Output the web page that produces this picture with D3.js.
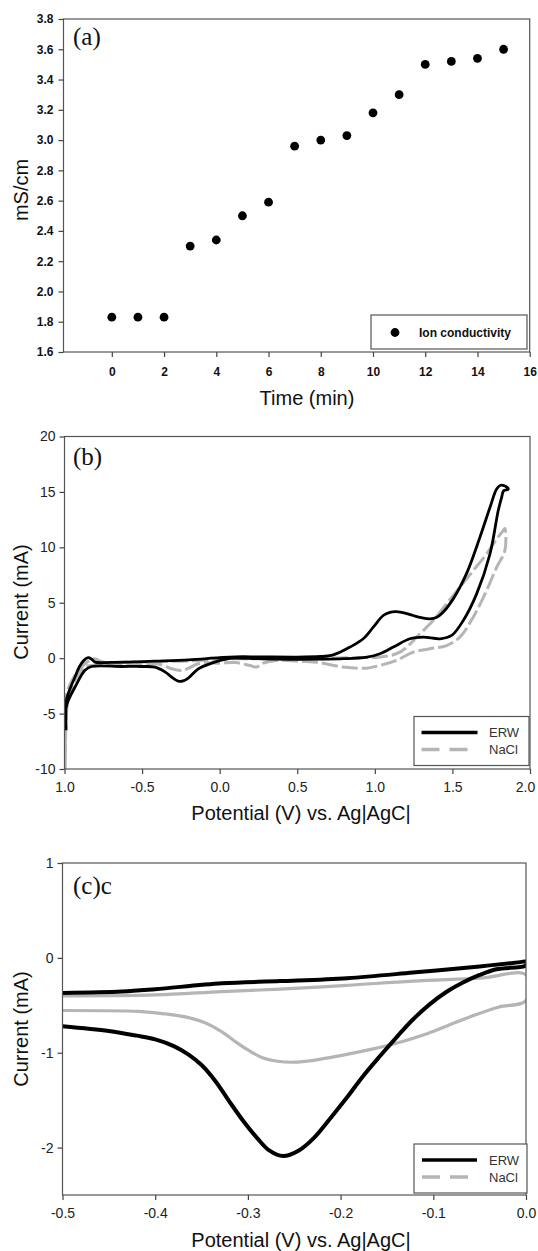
<!DOCTYPE html>
<html><head><meta charset="utf-8">
<script src="https://cdn.jsdelivr.net/npm/d3@7"></script>
<style>body{margin:0;background:#fff}svg{display:block}</style>
</head><body>
<script>
// ---------- Panel (a) data ----------
const timeMin = [0,1,2,3,4,5,6,7,8,9,10,11,12,13,14,15];
const conductivity = [1.83,1.83,1.83,2.30,2.34,2.50,2.59,2.96,3.00,3.03,3.18,3.30,3.50,3.52,3.54,3.60];
const aXTicks = [0,2,4,6,8,10,12,14,16];
const aYTicks = [1.6,1.8,2.0,2.2,2.4,2.6,2.8,3.0,3.2,3.4,3.6,3.8];

// ---------- Panel (b) data: [potential V, current mA] ----------
const erwB = [[-0.99,-6.5],[-0.99,-4.2],[-0.985,-3.6],[-0.96,-2.6],[-0.932,-1.7],[-0.905,-0.8],[-0.875,-0.2],[-0.847,0.04],[-0.825,-0.1],[-0.803,-0.36],[-0.7,-0.38],[-0.55,-0.34],[-0.417,-0.27],[-0.2,-0.15],[0.0,0.05],[0.1,0.12],[0.25,0.12],[0.5,0.1],[0.65,0.15],[0.72,0.25],[0.775,0.54],[0.84,1.0],[0.925,1.75],[0.99,2.8],[1.054,3.85],[1.097,4.14],[1.14,4.2],[1.2,4.05],[1.247,3.85],[1.3,3.65],[1.355,3.55],[1.4,3.7],[1.43,4.0],[1.505,5.35],[1.59,7.6],[1.677,10.9],[1.742,13.6],[1.785,15.26],[1.81,15.6],[1.835,15.55],[1.86,15.25],[1.83,15.1],[1.817,14.5],[1.795,13.3],[1.742,9.4],[1.656,5.8],[1.57,3.4],[1.495,2.05],[1.42,1.75],[1.312,1.9],[1.226,1.75],[1.119,1.0],[1.033,0.4],[0.95,0.1],[0.8,-0.05],[0.5,-0.1],[0.25,-0.05],[0.1,0.0],[0.055,-0.05],[-0.052,-0.45],[-0.138,-0.96],[-0.2,-1.77],[-0.235,-2.05],[-0.267,-2.07],[-0.31,-1.7],[-0.35,-1.26],[-0.417,-0.81],[-0.5,-0.75],[-0.63,-0.75],[-0.825,-0.75],[-0.868,-1.1],[-0.932,-2.6],[-0.975,-3.8],[-0.99,-4.5]];
const naclB = [[-0.995,-10],[-0.993,-5],[-0.985,-3.2],[-0.965,-2.4],[-0.93,-1.5],[-0.868,-0.5],[-0.803,-0.05],[-0.76,-0.33],[-0.6,-0.35],[-0.4,-0.3],[-0.2,-0.25],[0.0,-0.1],[0.12,-0.05],[0.3,-0.05],[0.5,-0.05],[0.7,0.0],[0.9,0.05],[1.033,0.1],[1.162,0.54],[1.29,2.2],[1.376,3.4],[1.462,4.9],[1.548,6.4],[1.634,7.9],[1.72,9.4],[1.785,10.75],[1.827,11.5],[1.838,11.7],[1.838,9.7],[1.785,8.2],[1.72,6.1],[1.634,3.7],[1.548,1.9],[1.462,1.14],[1.355,0.85],[1.247,0.54],[1.14,-0.2],[1.033,-0.66],[0.947,-0.9],[0.795,-0.8],[0.624,-0.36],[0.5,-0.25],[0.366,-0.2],[0.28,-0.45],[0.238,-0.8],[0.195,-0.66],[0.1,-0.4],[0.0,-0.45],[-0.138,-0.5],[-0.2,-0.9],[-0.245,-1.1],[-0.31,-0.96],[-0.374,-0.6],[-0.45,-0.5],[-0.63,-0.5],[-0.825,-0.66],[-0.868,-0.8],[-0.932,-2.0],[-0.965,-3.2],[-0.985,-4.5],[-0.995,-10]];
const bXTicks = [-1.0,-0.5,0.0,0.5,1.0,1.5,2.0];
const bXTickLabels = ["1.0","-0.5","0.0","0.5","1.0","1.5","2.0"];
const bYTicks = [-10,-5,0,5,10,15,20];

// ---------- Panel (c) data ----------
const erwC = [[-0.5,-0.37],[-0.436,-0.355],[-0.4,-0.33],[-0.328,-0.268],[-0.265,-0.245],[-0.193,-0.214],[-0.122,-0.155],[-0.05,-0.09],[-0.006,-0.045],[0,-0.04],[0,-0.08],[-0.032,-0.12],[-0.05,-0.18],[-0.068,-0.26],[-0.086,-0.36],[-0.104,-0.49],[-0.122,-0.65],[-0.139,-0.83],[-0.157,-1.03],[-0.176,-1.25],[-0.193,-1.47],[-0.211,-1.69],[-0.229,-1.9],[-0.245,-2.03],[-0.262,-2.09],[-0.277,-2.03],[-0.29,-1.9],[-0.305,-1.72],[-0.321,-1.5],[-0.335,-1.3],[-0.35,-1.13],[-0.364,-1.02],[-0.38,-0.93],[-0.4,-0.86],[-0.42,-0.82],[-0.45,-0.77],[-0.5,-0.72]];
const naclC = [[-0.5,-0.4],[-0.4,-0.39],[-0.328,-0.355],[-0.265,-0.33],[-0.193,-0.29],[-0.122,-0.245],[-0.05,-0.214],[0,-0.18],[0,-0.45],[-0.03,-0.52],[-0.06,-0.62],[-0.086,-0.72],[-0.11,-0.81],[-0.14,-0.9],[-0.17,-0.97],[-0.2,-1.03],[-0.229,-1.08],[-0.25,-1.1],[-0.268,-1.09],[-0.285,-1.05],[-0.3,-0.97],[-0.314,-0.88],[-0.328,-0.78],[-0.345,-0.69],[-0.364,-0.63],[-0.39,-0.59],[-0.418,-0.565],[-0.5,-0.555]];
const cXTicks = [-0.5,-0.4,-0.3,-0.2,-0.1,0.0];
const cYTicks = [-2,-1,0,1];

const legendB = ["ERW","NaCl"];

// ---------- drawing ----------
const SANS = "'Liberation Sans', Arial, Helvetica, sans-serif";
const SERIF = "'Liberation Serif', 'Times New Roman', serif";
const hy = f => d => f(d).replace("\u2212","-");
const svg = d3.select("body").append("svg").attr("width",538).attr("height",1251);
svg.append("rect").attr("width",538).attr("height",1251).attr("fill","#fff");

function frame(x,y){
  const [x0,x1]=x.range(), [y0,y1]=y.range();
  svg.append("rect").attr("x",x0).attr("y",y1).attr("width",x1-x0).attr("height",y0-y1)
    .attr("fill","none").attr("stroke","#555").attr("stroke-width",1.2);
}
function styleAxis(g,size,weight,color){
  g.select(".domain").remove();
  g.selectAll(".tick line").attr("stroke","#444").attr("stroke-width",1.2);
  g.selectAll(".tick text").attr("font-family",SANS).attr("font-size",size).attr("font-weight",weight).attr("fill",color);
  return g;
}
function clip(id,x,y){
  const [x0,x1]=x.range(), [y0,y1]=y.range();
  svg.append("clipPath").attr("id",id).append("rect").attr("x",x0).attr("y",y1).attr("width",x1-x0).attr("height",y0-y1);
}
function yTitle(text,cx,cy){
  svg.append("text").attr("transform",`translate(${cx},${cy}) rotate(-90)`).attr("text-anchor","middle")
    .attr("font-family",SANS).attr("font-size",20).attr("fill","#111").text(text);
}
function xTitle(text,cx,by){
  svg.append("text").attr("x",cx).attr("y",by).attr("text-anchor","middle")
    .attr("font-family",SANS).attr("font-size",20).attr("fill","#111").text(text);
}
function panelLabel(text,x,y){
  svg.append("text").attr("x",x).attr("y",y).attr("font-family",SERIF).attr("font-size",25).attr("fill","#111").text(text);
}

// ---- Panel (a) ----
const xA = d3.scaleLinear([-1.85,16],[63.5,529.7]);
const yA = d3.scaleLinear([1.6,3.8],[352,19]);
frame(xA,yA);
styleAxis(svg.append("g").attr("transform","translate(63.5,0)")
  .call(d3.axisLeft(yA).tickValues(aYTicks).tickSize(5).tickPadding(5).tickFormat(d3.format(".1f"))),12,"bold","#111");
styleAxis(svg.append("g").attr("transform","translate(0,352)")
  .call(d3.axisBottom(xA).tickValues(aXTicks).tickSize(5).tickPadding(10).tickFormat(d3.format("d"))),12,"bold","#111");
svg.append("g").selectAll("circle").data(timeMin).join("circle")
  .attr("cx",(d)=>xA(d)).attr("cy",(d,i)=>yA(conductivity[i])).attr("r",4.4).attr("fill","#000");
svg.append("rect").attr("x",371).attr("y",315).attr("width",156).attr("height",34).attr("fill","#fff").attr("stroke","#555").attr("stroke-width",1.2);
svg.append("circle").attr("cx",395).attr("cy",332.5).attr("r",4.4).attr("fill","#000");
svg.append("text").attr("x",419).attr("y",337).attr("font-family",SANS).attr("font-size",12).attr("font-weight","bold").attr("fill","#111").text("Ion conductivity");
panelLabel("(a)",73,45);
yTitle("mS/cm",28,190);
xTitle("Time (min)",307,405);

// ---- Panel (b) ----
const xB = d3.scaleLinear([-1,2],[64.5,530]);
const yB = d3.scaleLinear([-10,20],[769,436.5]);
clip("clipB",xB,yB);
const lineB = d3.line().x(d=>xB(d[0])).y(d=>yB(d[1])).curve(d3.curveCatmullRom.alpha(0.5));
const gB = svg.append("g").attr("clip-path","url(#clipB)");
gB.append("path").attr("d",lineB(naclB)).attr("fill","none").attr("stroke","#b5b5b5").attr("stroke-width",3).attr("stroke-dasharray","16,4").attr("stroke-linejoin","round");
gB.append("path").attr("d",lineB(erwB)).attr("fill","none").attr("stroke","#000").attr("stroke-width",2.8).attr("stroke-linejoin","round");
frame(xB,yB);
styleAxis(svg.append("g").attr("transform","translate(64.5,0)")
  .call(d3.axisLeft(yB).tickValues(bYTicks).tickSize(5).tickPadding(4).tickFormat(hy(d3.format("d")))),14,"normal","#222");
const bxAxis = styleAxis(svg.append("g").attr("transform","translate(0,769)")
  .call(d3.axisBottom(xB).tickValues(bXTicks).tickSize(5).tickPadding(8).tickFormat((d,i)=>bXTickLabels[i])),14,"normal","#222");
bxAxis.selectAll(".tick text").filter((d,i)=>i===bXTicks.length-1).attr("dx",-5);
svg.append("rect").attr("x",414).attr("y",716.5).attr("width",115).attr("height",49).attr("fill","#fff").attr("stroke","#555").attr("stroke-width",1.2);
svg.append("line").attr("x1",421.5).attr("x2",477.5).attr("y1",732.5).attr("y2",732.5).attr("stroke","#000").attr("stroke-width",3.5);
svg.append("line").attr("x1",421.5).attr("x2",468.5).attr("y1",749.5).attr("y2",749.5).attr("stroke","#b5b5b5").attr("stroke-width",3.5).attr("stroke-dasharray","18,10");
svg.selectAll(".legB").data(legendB).join("text").attr("class","legB")
  .attr("x",489).attr("y",(d,i)=>737+i*17).attr("font-family",SANS).attr("font-size",13).attr("fill","#333").text(d=>d);
panelLabel("(b)",73,465);
yTitle("Current (mA)",28,602);
xTitle("Potential (V) vs. Ag|AgC|",301,820);

// ---- Panel (c) ----
const xC = d3.scaleLinear([-0.5,0],[62.5,526]);
const yC = d3.scaleLinear([-2.5,1],[1195,863]);
clip("clipC",xC,yC);
const lineC = d3.line().x(d=>xC(d[0])).y(d=>yC(d[1])).curve(d3.curveCatmullRom.alpha(0.5));
const gC = svg.append("g").attr("clip-path","url(#clipC)");
gC.append("path").attr("d",lineC(naclC)).attr("fill","none").attr("stroke","#b5b5b5").attr("stroke-width",3.2).attr("stroke-linejoin","round");
gC.append("path").attr("d",lineC(erwC)).attr("fill","none").attr("stroke","#000").attr("stroke-width",4).attr("stroke-linejoin","round");
frame(xC,yC);
styleAxis(svg.append("g").attr("transform","translate(62.5,0)")
  .call(d3.axisLeft(yC).tickValues(cYTicks).tickSize(5).tickPadding(4).tickFormat(hy(d3.format("d")))),14,"normal","#222");
styleAxis(svg.append("g").attr("transform","translate(0,1195)")
  .call(d3.axisBottom(xC).tickValues(cXTicks).tickSize(5).tickPadding(8).tickFormat(hy(d3.format(".1f")))),14,"normal","#222");
svg.append("rect").attr("x",414).attr("y",1144).attr("width",113).attr("height",49).attr("fill","#fff").attr("stroke","#555").attr("stroke-width",1.2);
svg.append("line").attr("x1",422).attr("x2",477).attr("y1",1160).attr("y2",1160).attr("stroke","#000").attr("stroke-width",3.5);
svg.append("line").attr("x1",422).attr("x2",469).attr("y1",1177).attr("y2",1177).attr("stroke","#b5b5b5").attr("stroke-width",3.5).attr("stroke-dasharray","18,10");
svg.selectAll(".legC").data(legendB).join("text").attr("class","legC")
  .attr("x",489).attr("y",(d,i)=>1165+i*17).attr("font-family",SANS).attr("font-size",13).attr("fill","#333").text(d=>d);
panelLabel("(c)c",73,894);
yTitle("Current (mA)",28,1029);
xTitle("Potential (V) vs. Ag|AgC|",301,1247);
</script>
</body></html>
